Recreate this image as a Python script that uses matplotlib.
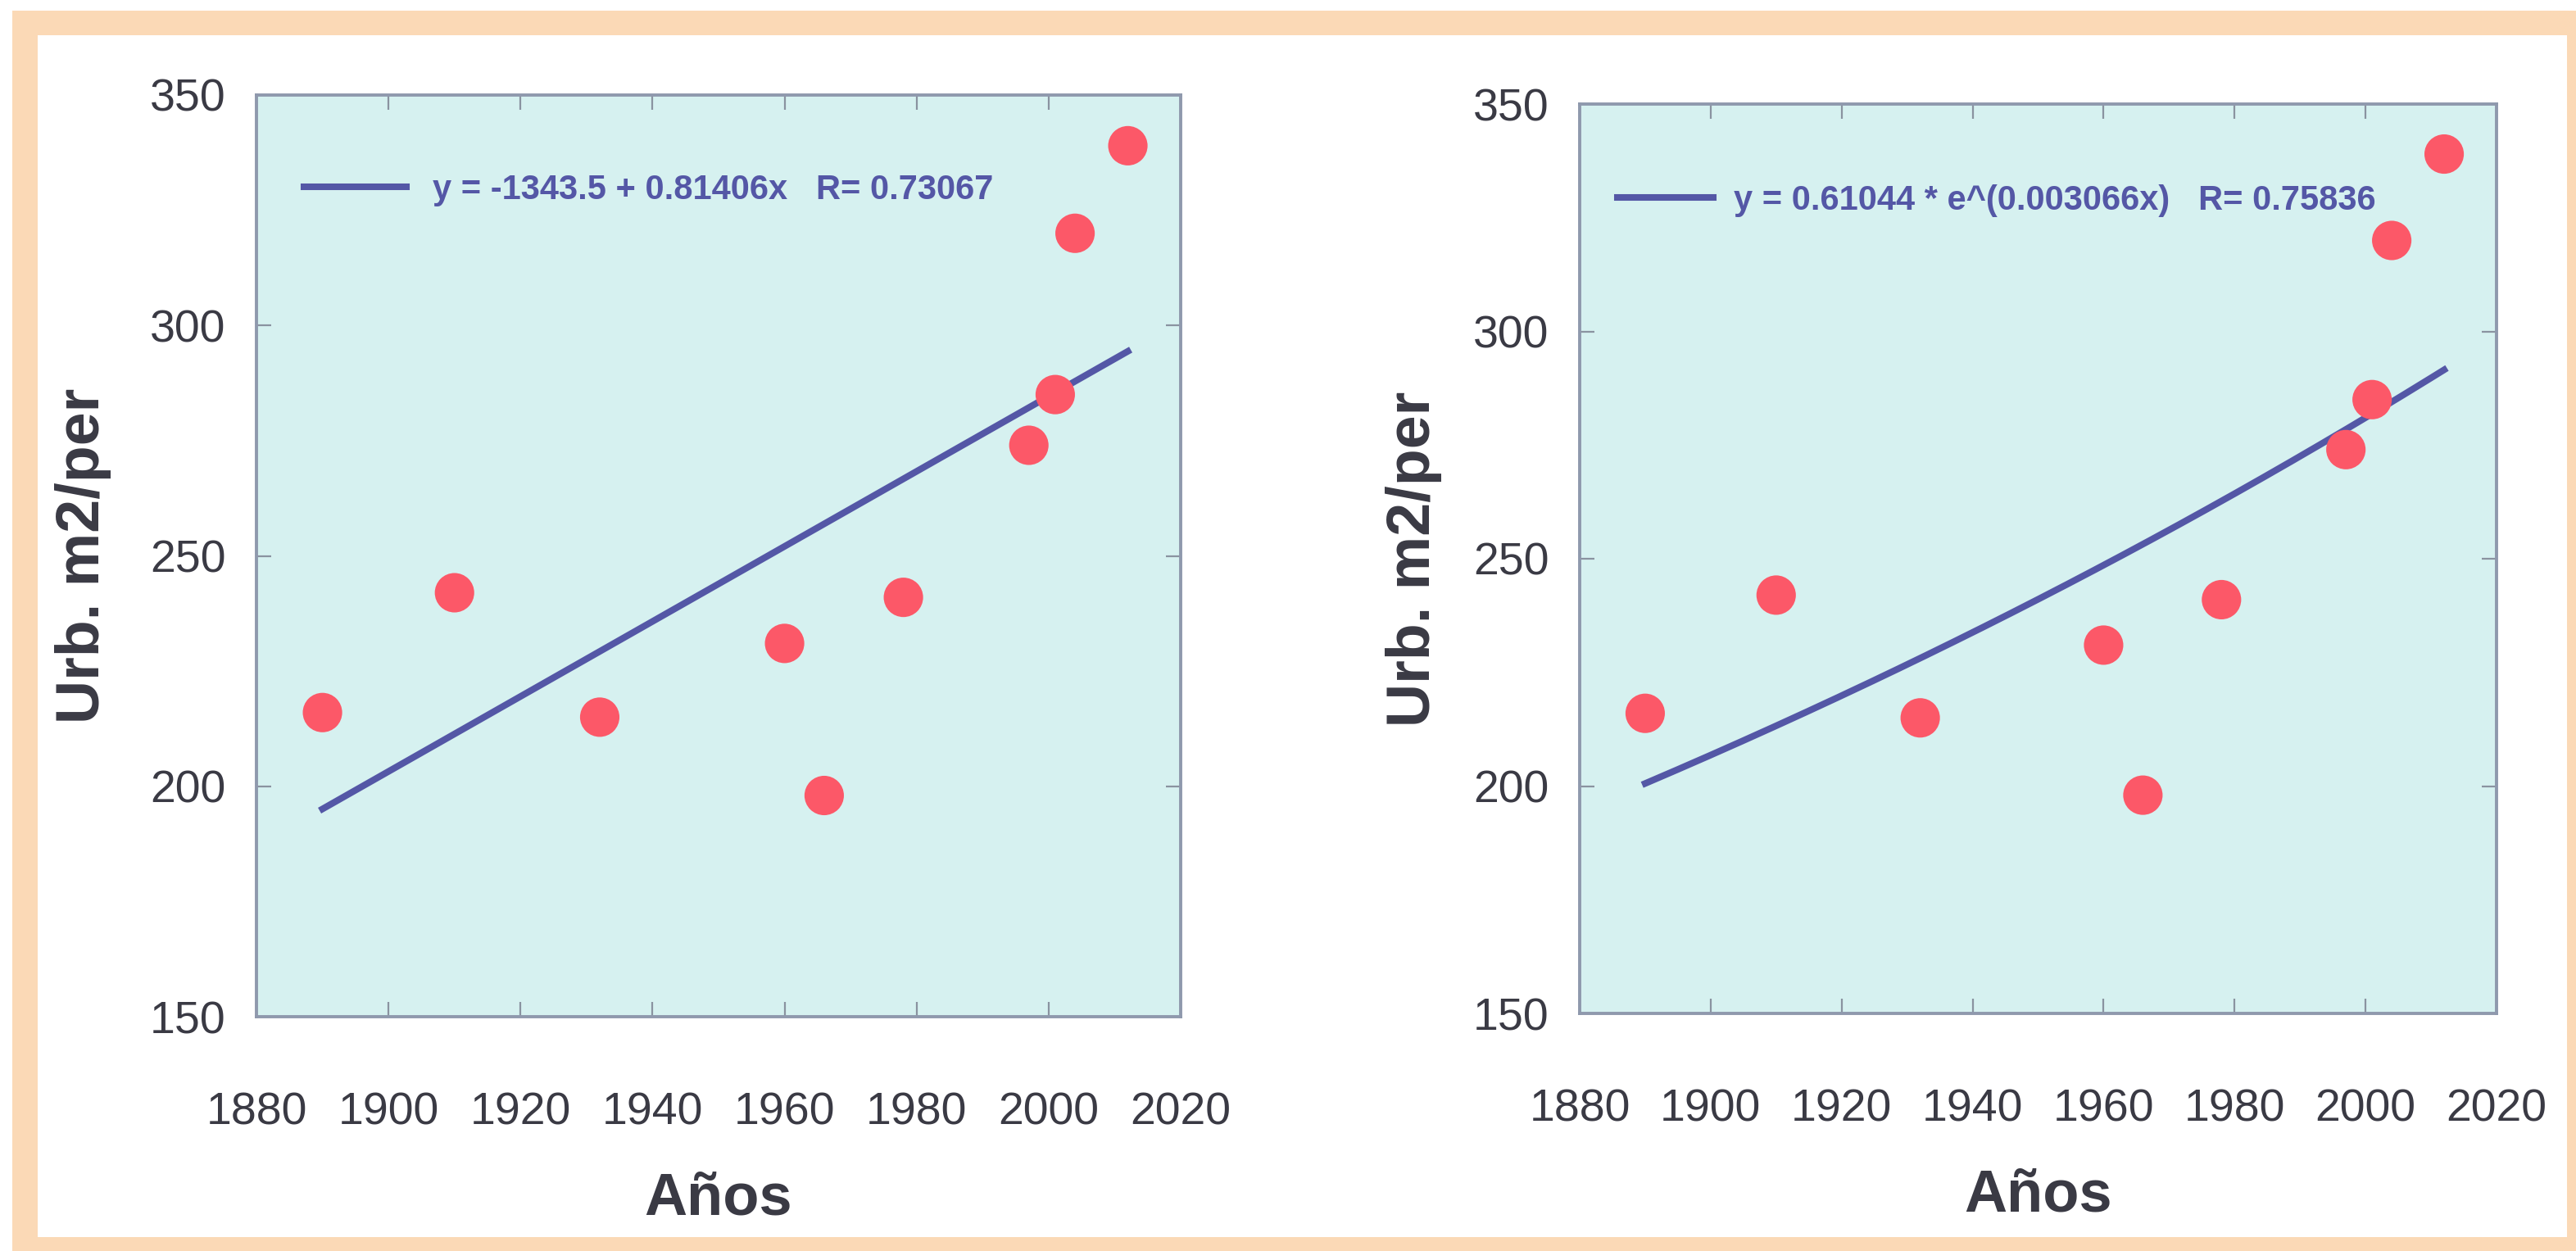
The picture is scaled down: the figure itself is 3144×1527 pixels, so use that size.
import numpy as np
import matplotlib.pyplot as plt
from matplotlib.patches import Rectangle

plt.rcParams['font.family'] = ['Liberation Sans', 'DejaVu Sans']

# datos
years = [1890, 1910, 1932, 1960, 1966, 1978, 1997, 2001, 2004, 2012]
urb_m2 = [216, 242, 215, 231, 198, 241, 274, 285, 320, 339]

# ajustes (coeficientes del grafico original)
lin_a, lin_b, lin_r = -1343.5, 0.81406, 0.73067
exp_a, exp_b, exp_r = 0.61044, 0.003066, 0.75836

x_ticks = list(range(1880, 2021, 20))
y_ticks = list(range(150, 351, 50))

W, H = 3144, 1527
fig = plt.figure(figsize=(W / 200, H / 200), dpi=200)

# marco naranja del escaneo
fig.add_artist(Rectangle((15 / W, 0), 1, 1 - 13 / H, transform=fig.transFigure,
                         facecolor='#fbd9b6', edgecolor='none', zorder=-10))
fig.add_artist(Rectangle((46 / W, 17 / H), (3133 - 46) / W, (1510 - 43) / H,
                         transform=fig.transFigure, facecolor='white',
                         edgecolor='none', zorder=-9))

ax1 = fig.add_axes([313 / W, 1 - 1241 / H, 1128 / W, 1125 / H])
ax2 = fig.add_axes([1928 / W, 1 - 1237 / H, 1119 / W, 1110 / H])

fit_x = np.linspace(min(years), max(years), 200)
lin_y = lin_a + lin_b * fit_x
exp_y = exp_a * np.exp(exp_b * fit_x)

line_col = '#5457a6'
dot_col = '#fc5868'
text_col = '#3a3a44'

panels = [
    (ax1, lin_y, 'y = -1343.5 + 0.81406x   R= %.5f' % lin_r, (0.051, 0.897), 3.0, 0.78, 17),
    (ax2, exp_y, 'y = 0.61044 * e^(0.003066x)   R= %.5f' % exp_r, (0.041, 0.894), 2.8, 0.62, 13.5),
]

for ax, fy, lab, anchor, hl, htp, lpad in panels:
    ax.set_facecolor('#d6f1f0')
    ax.scatter(years, urb_m2, s=300, color=dot_col, edgecolors='none', zorder=3)
    ax.plot(fit_x, fy, color=line_col, lw=2.9, label=lab, zorder=2)

    ax.set_xlim(1880, 2020)
    ax.set_ylim(150, 350)
    ax.set_xticks(x_ticks)
    ax.set_yticks(y_ticks)
    ax.tick_params(axis='both', direction='in', top=True, right=True,
                   length=6.5, width=0.8, color='#8a93a0',
                   labelsize=20, labelcolor=text_col)
    ax.tick_params(axis='x', pad=33)
    ax.tick_params(axis='y', pad=13.5)
    for sp in ax.spines.values():
        sp.set_color('#8f99ad')
        sp.set_linewidth(1.4)

    ax.set_xlabel('Años', fontsize=26, fontweight='bold', color=text_col, labelpad=16)
    ax.set_ylabel('Urb. m2/per', fontsize=26.5, fontweight='bold', color=text_col,
                  labelpad=lpad)

    ax.legend(loc='center left', bbox_to_anchor=anchor, frameon=False,
              borderpad=0, borderaxespad=0, handlelength=hl, handletextpad=htp,
              prop={'size': 15, 'weight': 'bold'}, labelcolor=line_col)

fig.savefig('out.png', dpi=200)
